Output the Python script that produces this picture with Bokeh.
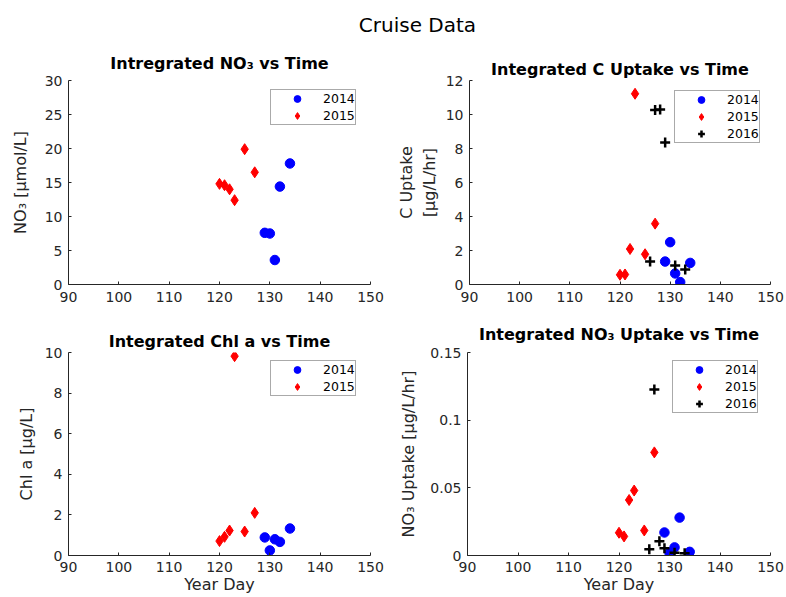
from bokeh.plotting import figure
from bokeh.layouts import column, row
from bokeh.models import Range1d, FixedTicker, CustomJSTickFormatter, Legend, LegendItem
from bokeh.core.properties import value
from bokeh.embed import file_html
from bokeh.resources import INLINE

FONT = "DejaVu Sans"
AXC = "#262626"

# ---------------- data ----------------
day_2014 = [129, 130, 131, 132, 134]
no3_2014 = [7.6, 7.5, 3.6, 14.4, 17.8]
cup_2014 = [1.35, 2.49, 0.65, 0.14, 1.27]
chl_2014 = [0.89, 0.25, 0.80, 0.67, 1.33]
nup_2014 = [0.017, 0.002, 0.006, 0.028, 0.0027]

day_2015 = [120, 121, 122, 123, 125, 127]
no3_2015 = [14.8, 14.6, 14.0, 12.4, 19.9, 16.5]
cup_2015 = [0.57, 0.59, 2.09, 11.22, 1.78, 3.58]
chl_2015 = [0.71, 0.92, 1.23, 9.82, 1.18, 2.10]
nup_2015 = [0.0168, 0.0141, 0.041, 0.048, 0.0185, 0.0762]

day_2016 = [126, 127, 128, 129, 131, 133]
cup_2016 = [1.35, 10.26, 10.30, 8.36, 1.12, 0.88]
nup_2016 = [0.0047, 0.1226, 0.0106, 0.0054, 0.0020, 0.0017]

x_ticks = [90, 100, 110, 120, 130, 140, 150]
no3_ticks = [0, 5, 10, 15, 20, 25, 30]
cup_ticks = [0, 2, 4, 6, 8, 10, 12]
chl_ticks = [0, 2, 4, 6, 8, 10]
nup_ticks = [0, 0.05, 0.1, 0.15]
nup_labels = ["0", "0.05", "0.1", "0.15"]

years = ["2014", "2015", "2016"]
colors = ["#0000ff", "#ff0000", "#000000"]
markers = ["circle", "diamond", "cross"]
sizes = [9.5, 11, 10]


def style_axis(ax, standoff_label, tick_standoff):
    ax.axis_line_color = AXC
    ax.axis_line_width = 1
    ax.major_tick_line_color = AXC
    ax.major_tick_in = 3
    ax.major_tick_out = 0
    ax.minor_tick_in = 0
    ax.minor_tick_out = 0
    ax.major_label_text_font = FONT
    ax.major_label_text_font_size = "14px"
    ax.major_label_text_color = AXC
    ax.major_label_standoff = tick_standoff
    ax.axis_label_text_font = FONT
    ax.axis_label_text_font_size = "16px"
    ax.axis_label_text_font_style = "normal"
    ax.axis_label_text_color = AXC
    ax.axis_label_standoff = standoff_label


def marker_is_cross(k):
    return markers[k] == "cross"


def panel(w, h, bl, br, bt, bb, ymax, yticks, title, title_standoff, ylabel,
          ylabel_standoff, xlabel, series, legend_loc, ylabels=None):
    p = figure(width=w, height=h, output_backend="svg", toolbar_location=None,
               x_range=Range1d(90, 150), y_range=Range1d(0, ymax),
               min_border_left=bl, min_border_right=br,
               min_border_top=bt, min_border_bottom=bb)
    p.outline_line_color = None
    p.grid.visible = False
    p.background_fill_color = "white"
    p.border_fill_color = "white"

    p.title.text = title
    p.title.align = "center"
    p.title.text_font = FONT
    p.title.text_font_size = "16px"
    p.title.text_font_style = "bold"
    p.title.text_color = "#000000"
    p.title.standoff = title_standoff

    xa = p.xaxis[0]
    xa.ticker = FixedTicker(ticks=x_ticks)
    if xlabel:
        style_axis(xa, 0, 6)
        xa.axis_label = xlabel
    else:
        style_axis(xa, 0, 7)

    ya = p.yaxis[0]
    ya.ticker = FixedTicker(ticks=yticks)
    style_axis(ya, ylabel_standoff, 6)
    ya.axis_label = ylabel
    if ylabels is not None:
        ya.formatter = CustomJSTickFormatter(
            args=dict(tv=yticks, tl=ylabels),
            code="const i = tv.indexOf(tick); return i >= 0 ? tl[i] : String(tick);")

    items = []
    for k, (xs, ys) in enumerate(series):
        if marker_is_cross(k):
            r = p.scatter(xs, ys, marker=markers[k], size=sizes[k],
                          line_color=colors[k], line_width=2.5)
        else:
            r = p.scatter(xs, ys, marker=markers[k], size=sizes[k],
                          fill_color=colors[k], line_color=colors[k])
        items.append(LegendItem(label=years[k], renderers=[r]))

    leg = Legend(items=items, location=legend_loc)
    leg.margin = 0
    leg.padding = 0
    leg.spacing = 0
    leg.glyph_width = 52
    leg.glyph_height = 17
    leg.label_height = 17
    leg.label_standoff = 0
    leg.label_text_font = FONT
    leg.label_text_font_size = "12.5px"
    leg.label_text_color = "#000000"
    leg.border_line_color = "#555555"
    leg.border_line_width = 1
    leg.background_fill_color = "white"
    leg.background_fill_alpha = 1
    p.add_layout(leg)
    return p


# title strip
tf = figure(width=786, height=41, output_backend="svg", toolbar_location=None,
            x_range=Range1d(0, 786), y_range=Range1d(0, 41),
            x_axis_type=None, y_axis_type=None, min_border=0)
tf.outline_line_color = None
tf.grid.visible = False
tf.text(x=[417], y=[17], text=["Cruise Data"], text_font=value(FONT),
        text_font_size="20px", text_align="center", text_baseline="middle",
        text_color="#000000")

p1 = panel(393, 271, 68, 23, 39, 28, 30, no3_ticks,
           "Intregrated NO\u2083 vs Time", 16,
           "NO\u2083 [\u03bcmol/L]", 12, None,
           [(day_2014, no3_2014), (day_2015, no3_2015)], (202, 159))
p2 = panel(393, 271, 74, 16, 39, 28, 12, cup_ticks,
           "Integrated C Uptake vs Time", 4,
           "C Uptake\n[\u03bcg/L/hr]", 4, None,
           [(day_2014, cup_2014), (day_2015, cup_2015), (day_2016, cup_2016)],
           (205, 141))
p3 = panel(393, 285, 68, 23, 40, 42, 10, chl_ticks,
           "Integrated Chl a vs Time", 4,
           "Chl a [\u03bcg/L]", 6, "Year Day",
           [(day_2014, chl_2014), (day_2015, chl_2015)], (202, 159))
p4 = panel(393, 285, 74, 16, 40, 42, 0.15, nup_ticks,
           "Integrated NO\u2083 Uptake vs Time", 17,
           "NO\u2083 Uptake [\u03bcg/L/hr]", 9, "Year Day",
           [(day_2014, nup_2014), (day_2015, nup_2015), (day_2016, nup_2016)],
           (205, 142), ylabels=nup_labels)

layout = column(tf, row(p1, p2), row(p3, p4))

with open("out.html", "w") as f:
    f.write(file_html(layout, INLINE))
